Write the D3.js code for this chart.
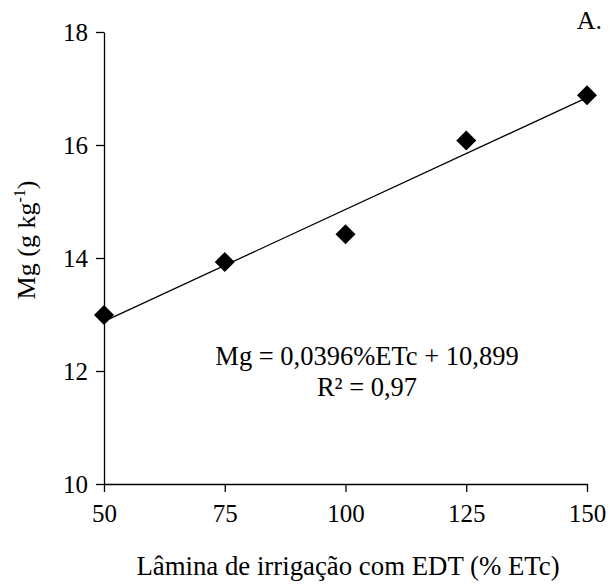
<!DOCTYPE html>
<html>
<head>
<meta charset="utf-8">
<script src="https://cdn.jsdelivr.net/npm/d3@7"></script>
</head>
<body style="margin:0; background:#fff">
<svg width="610" height="586"></svg>
<script>
let width = 610;
let height = 586;
let serif = "Liberation Serif";

let margin = {
    top: 32,
    right: 23,
    bottom: 102,
    left: 104
};

// data
let laminas = [50, 75, 100, 125, 150];
let mgValues = [12.99, 13.93, 14.42, 16.08, 16.88];
let xTicks = [50, 75, 100, 125, 150];
let yTicks = [10, 12, 14, 16, 18];
let slope = 0.0396;
let intercept = 10.899;

let svg = d3.select("svg");

let x = d3.scaleLinear()
    .domain([50, 150])
    .range([margin.left, width - margin.right]);

let y = d3.scaleLinear()
    .domain([10, 18])
    .range([height - margin.bottom, margin.top]);

// axes
let xAxis = svg.append("g")
    .attr("transform", `translate(0,${height - margin.bottom})`)
    .call(d3.axisBottom(x).tickValues(xTicks).tickSize(8).tickPadding(12).tickSizeOuter(0));

let yAxis = svg.append("g")
    .attr("transform", `translate(${margin.left},0)`)
    .call(d3.axisLeft(y).tickValues(yTicks).tickSize(8).tickPadding(8).tickSizeOuter(0));

[xAxis, yAxis].forEach(function(ax) {
    ax.attr("font-family", serif);
    ax.selectAll("path, line").style("stroke", "#000").style("stroke-width", "1.3px");
    ax.selectAll("text")
        .style("font-size", "25px")
        .style("font-family", serif)
        .style("fill", "#000");
});

// regression line
let line = d3.line()
    .x(d => x(d))
    .y(d => y(slope * d + intercept));

svg.append("path")
    .datum([50, 150])
    .attr("d", line)
    .style("fill", "none")
    .style("stroke", "#000")
    .style("stroke-width", "1.3px");

// diamond markers
let diamond = d3.symbol().type(d3.symbolSquare).size(200);

svg.append("g")
    .selectAll("path")
    .data(laminas)
    .join("path")
    .attr("d", diamond)
    .attr("transform", (d, i) => `translate(${x(d)},${y(mgValues[i])}) rotate(45)`)
    .style("fill", "#000");

function addText(px, py, txt, anchor, size) {
    return svg.append("text")
        .attr("x", px)
        .attr("y", py)
        .attr("text-anchor", anchor)
        .style("font-family", serif)
        .style("font-size", size + "px")
        .style("fill", "#000")
        .text(txt);
}

// equation
addText(367, 365, "Mg = 0,0396%ETc + 10,899", "middle", 26.5);
addText(367, 396, "R² = 0,97", "middle", 26.5);

// panel letter
addText(602, 29, "A.", "end", 26);

// axis titles
addText(348, 575, "Lâmina de irrigação com EDT (% ETc)", "middle", 26.8);

let yTitle = svg.append("text")
    .attr("transform", "translate(35,240) rotate(-90)")
    .attr("text-anchor", "middle")
    .style("font-family", serif)
    .style("font-size", "26px")
    .style("fill", "#000");
yTitle.append("tspan").text("Mg (g kg");
yTitle.append("tspan").attr("dy", -10).style("font-size", "16px").text("-1");
yTitle.append("tspan").attr("dy", 10).text(")");
</script>
</body>
</html>
